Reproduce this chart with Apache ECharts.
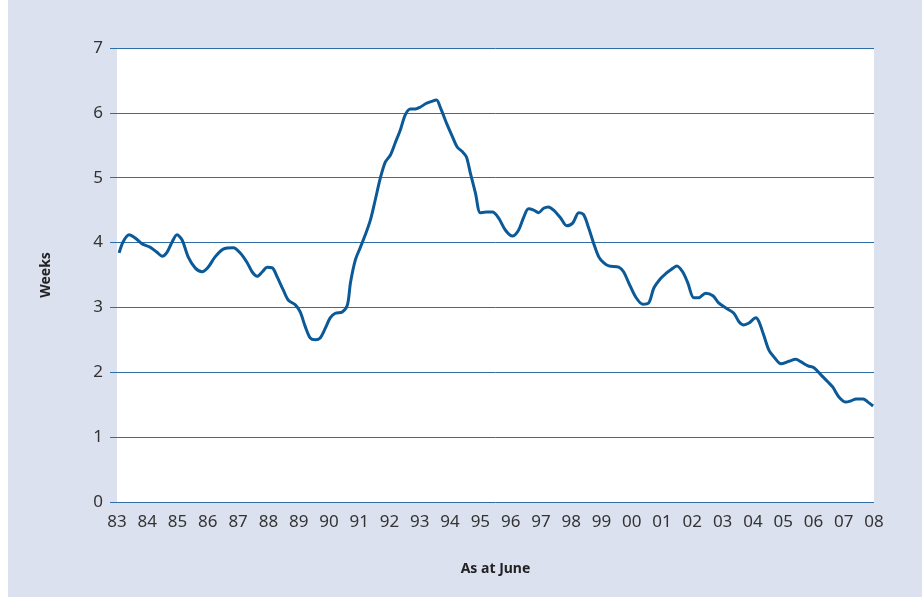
<!DOCTYPE html>
<html>
<head>
<meta charset="utf-8">
<script src="https://cdn.jsdelivr.net/npm/echarts@6/dist/echarts.min.js"></script>
<style>
html,body{margin:0;padding:0;background:#ffffff;}
#chart{width:922px;height:597px;}
</style>
</head>
<body>
<div id="chart"></div>
<script>
// Time positions in decimal years (as at June of each year label)
const years = [1983.07,1983.20,1983.40,1983.60,1983.83,1984.09,1984.32,1984.49,1984.65,1984.82,1984.98,1985.15,1985.35,1985.58,1985.81,1986.01,1986.24,1986.51,1986.84,1987.07,1987.30,1987.46,1987.63,1987.80,1987.96,1988.13,1988.29,1988.49,1988.66,1988.89,1989.05,1989.22,1989.38,1989.55,1989.71,1989.88,1990.04,1990.21,1990.44,1990.61,1990.71,1990.87,1991.04,1991.20,1991.37,1991.53,1991.70,1991.86,1992.03,1992.19,1992.36,1992.52,1992.69,1992.85,1993.02,1993.19,1993.35,1993.55,1993.68,1993.91,1994.08,1994.24,1994.41,1994.54,1994.67,1994.84,1995.00,1995.20,1995.40,1995.60,1995.83,1996.06,1996.26,1996.43,1996.59,1996.76,1996.92,1997.09,1997.25,1997.42,1997.65,1997.85,1998.05,1998.25,1998.41,1998.58,1998.74,1998.91,1999.07,1999.24,1999.57,1999.73,1999.90,2000.13,2000.36,2000.56,2000.73,2000.96,2001.12,2001.29,2001.49,2001.68,2001.85,2002.05,2002.21,2002.44,2002.68,2002.87,2003.11,2003.37,2003.54,2003.70,2003.87,2004.10,2004.20,2004.36,2004.53,2004.69,2004.93,2005.19,2005.42,2005.59,2005.82,2006.02,2006.25,2006.48,2006.64,2006.84,2007.07,2007.24,2007.41,2007.64,2007.80,2007.97];
const weeks = [3.84,4.01,4.12,4.07,3.98,3.93,3.85,3.79,3.85,4.01,4.12,4.04,3.78,3.61,3.55,3.62,3.78,3.90,3.92,3.84,3.69,3.55,3.48,3.55,3.62,3.61,3.47,3.27,3.11,3.04,2.93,2.70,2.53,2.50,2.53,2.68,2.84,2.91,2.93,3.04,3.38,3.73,3.93,4.12,4.35,4.66,5.00,5.24,5.35,5.54,5.74,5.97,6.06,6.06,6.09,6.14,6.17,6.20,6.08,5.81,5.63,5.47,5.40,5.32,5.07,4.76,4.46,4.47,4.47,4.38,4.19,4.10,4.19,4.39,4.52,4.50,4.46,4.53,4.55,4.50,4.38,4.26,4.30,4.46,4.43,4.22,3.99,3.78,3.69,3.64,3.62,3.55,3.38,3.16,3.05,3.07,3.30,3.45,3.52,3.58,3.64,3.55,3.38,3.15,3.15,3.22,3.18,3.07,2.99,2.91,2.78,2.73,2.76,2.84,2.78,2.57,2.34,2.24,2.13,2.17,2.20,2.16,2.10,2.07,1.96,1.85,1.77,1.62,1.54,1.56,1.59,1.59,1.54,1.48];
const xTickLabels = ['83','84','85','86','87','88','89','90','91','92','93','94','95','96','97','98','99','00','01','02','03','04','05','06','07','08'];
const yTicks = [0,1,2,3,4,5,6,7];

const chart = echarts.init(document.getElementById('chart'), null, {renderer:'canvas'});
const data = years.map((y,i)=>[y, weeks[i]]);
const gridBlue = '#2f6da6';
const font = "'Noto Sans', sans-serif";
chart.setOption({
  backgroundColor:'#dce1ef',
  animation:false,
  graphic:[{type:'rect',left:0,top:0,shape:{x:0,y:0,width:8,height:597},style:{fill:'#ffffff'},silent:true}],
  grid:{left:117,right:48,top:48,bottom:95,show:true,backgroundColor:'#ffffff',borderWidth:0},
  xAxis:{
    type:'value',min:1983,max:2008,interval:1,
    name:'As at June',nameLocation:'middle',nameGap:60,
    nameTextStyle:{fontFamily:font,fontWeight:'bold',fontSize:14,color:'#222'},
    axisLine:{show:false},axisTick:{show:false},splitLine:{show:false},
    axisLabel:{margin:12,fontFamily:font,fontSize:17,color:'#333',
      formatter:v=>xTickLabels[Math.round(v-1983)]}
  },
  yAxis:{
    type:'value',min:yTicks[0],max:yTicks[yTicks.length-1],interval:1,
    name:'Weeks',nameLocation:'middle',nameGap:64,nameRotate:90,
    nameTextStyle:{fontFamily:font,fontWeight:'bold',fontSize:14,color:'#222'},
    axisLine:{show:false},
    axisTick:{show:true,length:7,lineStyle:{color:gridBlue,width:1}},
    splitLine:{show:true,lineStyle:{color:gridBlue,width:1}},
    axisLabel:{margin:14,fontFamily:font,fontSize:17,color:'#333'}
  },
  series:[{
    type:'line',data:data,smooth:0.3,showSymbol:false,
    lineStyle:{color:'#0b5a97',width:3}
  }]
});
</script>
</body>
</html>
